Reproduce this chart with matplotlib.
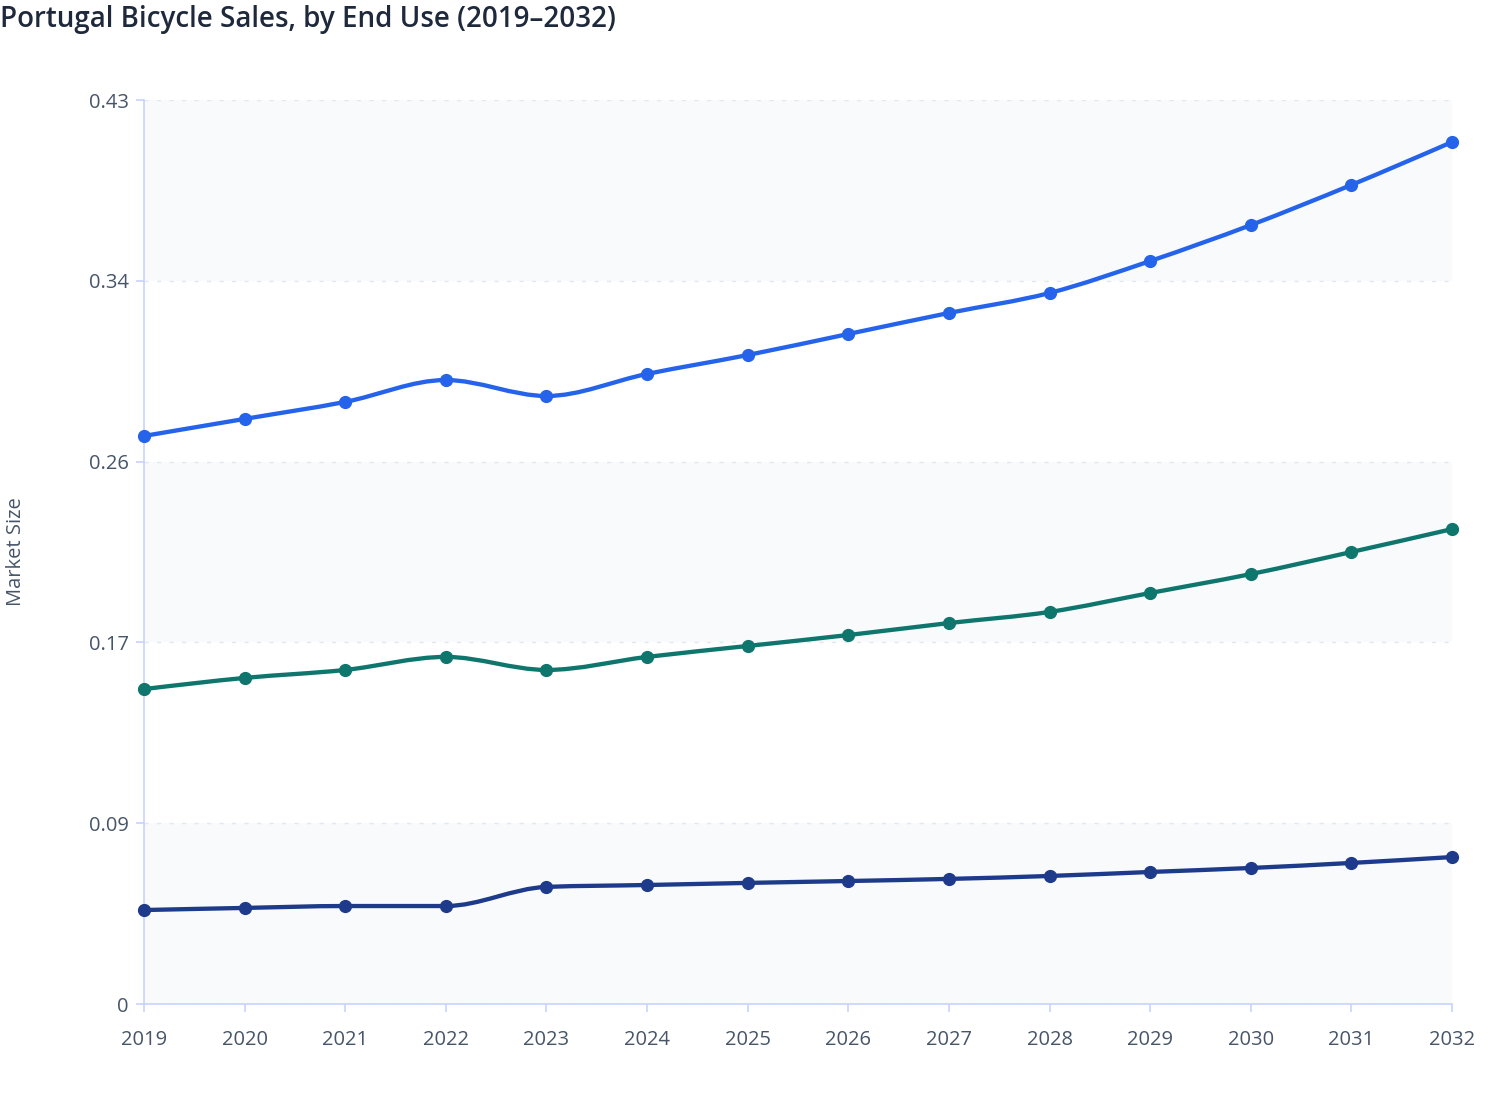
import numpy as np
import matplotlib
matplotlib.use("Agg")
import matplotlib.pyplot as plt
from matplotlib.path import Path
from matplotlib.patches import PathPatch

plt.rcParams['font.family'] = ['Open Sans', 'Noto Sans', 'DejaVu Sans']

years = [2019, 2020, 2021, 2022, 2023, 2024, 2025, 2026, 2027, 2028, 2029, 2030, 2031, 2032]
series_a = [0.2702, 0.2783, 0.2864, 0.2968, 0.2892, 0.2997, 0.3087, 0.3187, 0.3287, 0.3382, 0.3534, 0.3705, 0.3896, 0.4100]
series_b = [0.1498, 0.1551, 0.1589, 0.1651, 0.1589, 0.1651, 0.1703, 0.1755, 0.1812, 0.1865, 0.1955, 0.2045, 0.2150, 0.2259]
series_c = [0.0447, 0.0457, 0.0466, 0.0466, 0.0557, 0.0566, 0.0576, 0.0585, 0.0595, 0.0609, 0.0628, 0.0647, 0.0671, 0.0699]
colors = ['#2563eb', '#0f766e', '#1e3a8a']
ymax = 0.43
ytick_labels = ['0', '0.09', '0.17', '0.26', '0.34', '0.43']
title = 'Portugal Bicycle Sales, by End Use (2019\u20132032)'
ylabel = 'Market Size'

W, H = 1508, 1120
fig = plt.figure(figsize=(W / 100, H / 100), dpi=100)
L, R, T, B = 144, 1452, 100, 1004
ax = fig.add_axes([L / W, 1 - B / H, (R - L) / W, (B - T) / H])
ax.set_facecolor('white')
ax.set_xlim(years[0], years[-1])
ax.set_ylim(0, ymax)

yticks = list(np.linspace(0, ymax, len(ytick_labels)))
# alternating bands
for i in range(0, len(yticks) - 1, 2):
    ax.axhspan(yticks[i], yticks[i + 1], color='#f8fafc', lw=0, zorder=0)


def monotone_path(xs, ys):
    """Monotone cubic (d3 curveMonotoneX-style) as a bezier Path."""
    n = len(xs)
    xs = [float(v) for v in xs]
    ys = [float(v) for v in ys]
    t = [0.0] * n
    for i in range(1, n - 1):
        h0 = xs[i] - xs[i - 1]
        h1 = xs[i + 1] - xs[i]
        s0 = (ys[i] - ys[i - 1]) / h0
        s1 = (ys[i + 1] - ys[i]) / h1
        p = (s0 * h1 + s1 * h0) / (h0 + h1)
        t[i] = (np.sign(s0) + np.sign(s1)) * min(abs(s0), abs(s1), 0.5 * abs(p))
    h = xs[1] - xs[0]
    t[0] = (3 * (ys[1] - ys[0]) / h - t[1]) / 2
    h = xs[-1] - xs[-2]
    t[-1] = (3 * (ys[-1] - ys[-2]) / h - t[-2]) / 2
    verts = [(xs[0], ys[0])]
    codes = [Path.MOVETO]
    for i in range(n - 1):
        dx = (xs[i + 1] - xs[i]) / 3
        verts += [(xs[i] + dx, ys[i] + dx * t[i]),
                  (xs[i + 1] - dx, ys[i + 1] - dx * t[i + 1]),
                  (xs[i + 1], ys[i + 1])]
        codes += [Path.CURVE4] * 3
    return Path(verts, codes)


for ys, c in zip([series_a, series_b, series_c], colors):
    patch = PathPatch(monotone_path(years, ys), facecolor='none', edgecolor=c,
                      lw=3.1, capstyle='round', joinstyle='round', zorder=3, clip_on=False)
    ax.add_patch(patch)
    ax.plot(years, ys, 'o', color=c, ms=8.5, zorder=4, clip_on=False)

ax.set_yticks(yticks)
ax.set_yticklabels(ytick_labels)
ax.set_xticks(years)
ax.set_xticklabels([str(y) for y in years])
ax.grid(axis='y', color='#e2e8f0', linestyle=(0, (3, 6)), lw=1.0, zorder=1)
ax.set_axisbelow(True)
for s in ['top', 'right']:
    ax.spines[s].set_visible(False)
for s in ['left', 'bottom']:
    ax.spines[s].set_color('#c7d2fe')
    ax.spines[s].set_linewidth(1.2)
ax.tick_params(axis='both', colors='#c7d2fe', length=6, width=1.2,
               labelcolor='#475569', labelsize=14.5)
ax.tick_params(axis='x', pad=13)
ax.tick_params(axis='y', pad=5)

fig.text(16 / W, 1 - 552 / H, ylabel, rotation=90, ha='center', va='center',
         fontsize=14.5, color='#475569')
fig.text(0 / W, 1 - 19 / H, title, ha='left', va='center', fontsize=20,
         fontweight='semibold', color='#1e293b')

fig.savefig('out.png', dpi=100)
